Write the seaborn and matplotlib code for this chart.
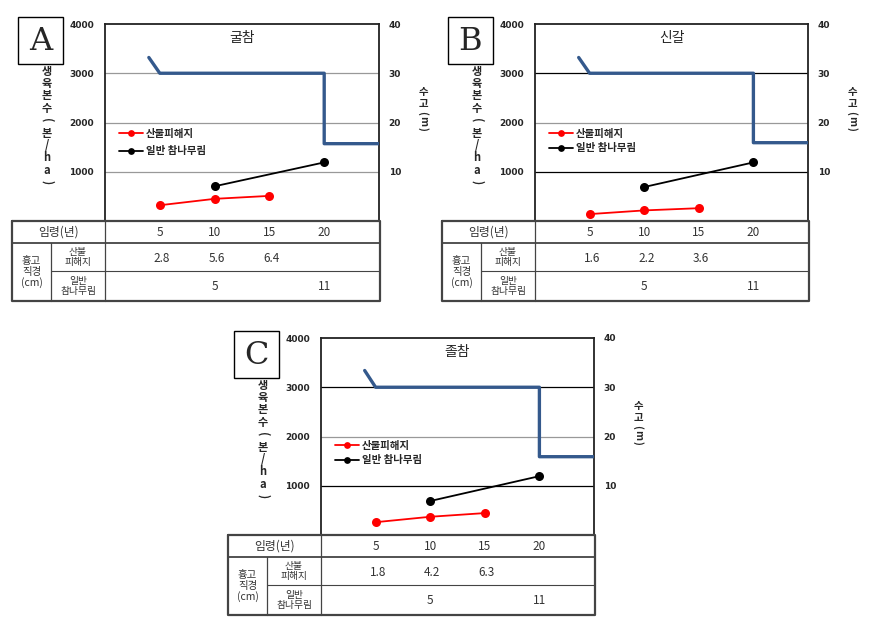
import matplotlib
matplotlib.use("Agg")
import matplotlib.pyplot as plt
import matplotlib.transforms as mtransforms
import seaborn as sns
import numpy as np
import pandas as pd

sns.set_theme(style="white")
KR = ['Noto Sans CJK KR', 'DejaVu Sans']
plt.rcParams['font.family'] = KR

# ---------------- data ----------------
panel_letters = ["A", "B", "C"]
species_titles = ["굴참", "신갈", "졸참"]

ages = [5, 10, 15, 20]
age_labels = ["5", "10", "15", "20"]

fire_ages = [5, 10, 15]
fire_density_A = [320, 450, 510]
fire_density_B = [140, 215, 260]
fire_density_C = [260, 370, 445]

oak_ages = [10, 20]
oak_density_A = [705, 1190]
oak_density_B = [690, 1190]
oak_density_C = [690, 1195]

height_x = [4, 5, 20, 20, 25]
height_A = [33.2, 30.0, 30.0, 15.7, 15.7]
height_B = [33.2, 30.0, 30.0, 15.9, 15.9]
height_C = [33.4, 30.0, 30.0, 15.9, 15.9]

dbh_fire_A = ["2.8", "5.6", "6.4"]
dbh_fire_B = ["1.6", "2.2", "3.6"]
dbh_fire_C = ["1.8", "4.2", "6.3"]
dbh_oak_ages = [10, 20]
dbh_oak = ["5", "11"]

left_ticks = [1000, 2000, 3000, 4000]
right_ticks = [10, 20, 30, 40]

legend_fire = "산불피해지"
legend_oak = "일반 참나무림"
row_age = "임령(년)"
row_dbh = "흉고\n직경\n(cm)"
row_fire = "산불\n피해지"
row_oak = "일반\n참나무림"
left_label_chars = ["생", "육", "본", "수", "(", "본", "/", "h", "a", ")"]
right_label_chars = ["수", "고", "(", "m", ")"]

# ---------------- layout (pixels) ----------------
W, H = 876, 628
fig = plt.figure(figsize=(W / 100, H / 100), dpi=100)

def px(x, y):
    return x / W, 1 - y / H

panels = [
    dict(l=105, r=379, t=24, b=221, fire=fire_density_A, oak=oak_density_A, hgt=height_A,
         dbh=dbh_fire_A, grid=["#999999", "#999999", "#999999"], leg=(0.035, 0.49), ls=0.75),
    dict(l=535, r=808, t=24, b=221, fire=fire_density_B, oak=oak_density_B, hgt=height_B,
         dbh=dbh_fire_B, grid=["#000000", "#999999", "#000000"], leg=(0.035, 0.49), ls=0.45),
    dict(l=321, r=594, t=338, b=535, fire=fire_density_C, oak=oak_density_C, hgt=height_C,
         dbh=dbh_fire_C, grid=["#000000", "#999999", "#000000"], leg=(0.035, 0.50), ls=0.45),
]

blue = "#34598c"
right_offsets = [68, 80, 89, 97, 105]

for i, p in enumerate(panels):
    l, r, t, b = p["l"], p["r"], p["t"], p["b"]
    ax = fig.add_axes([l / W, 1 - b / H, (r - l) / W, (b - t) / H])
    ax.set_xlim(0, 25)
    ax.set_ylim(0, 4000)
    for v, c in zip([1000, 2000, 3000], p["grid"]):
        ax.axhline(v, color=c, lw=0.9, zorder=0)

    sns.lineplot(x=fire_ages, y=p["fire"], ax=ax, color="#ff0000", marker="o",
                 markersize=6.5, markeredgewidth=0, lw=1.3, label=legend_fire, zorder=3)
    sns.lineplot(x=oak_ages, y=p["oak"], ax=ax, color="#000000", marker="o",
                 markersize=6.5, markeredgewidth=0, lw=1.3, label=legend_oak, zorder=3)

    ax.set_yticks(left_ticks)
    ax.set_yticklabels([str(v) for v in left_ticks], fontsize=6.5, fontweight="bold",
                       family="DejaVu Sans")
    ax.tick_params(axis="y", length=0, pad=8)
    ax.set_xticks(ages)
    ax.set_xticklabels([])
    ax.tick_params(axis="x", direction="in", length=3, width=0.8, colors="#000000")
    for s in ax.spines.values():
        s.set_color("#222222")
        s.set_linewidth(1.3)
    ax.set_xlabel("")
    ax.set_ylabel("")

    ax.legend(loc="upper left", bbox_to_anchor=p["leg"], frameon=False,
              prop=dict(family=KR, size=7.5, weight="bold"), handlelength=2.3,
              handletextpad=0.3, labelspacing=p["ls"], borderaxespad=0, markerscale=0.75)

    ax.text(0.5, 0.93, species_titles[i], transform=ax.transAxes, ha="center", va="center",
            fontsize=10, family=KR)

    ax2 = ax.twinx()
    ax2.set_ylim(0, 40)
    sns.lineplot(x=height_x, y=p["hgt"], ax=ax2, color=blue, lw=2.4, sort=False,
                 estimator=None, legend=False)
    ax2.set_yticks(right_ticks)
    ax2.set_yticklabels([str(v) for v in right_ticks], fontsize=6.5, fontweight="bold",
                        family="DejaVu Sans")
    ax2.tick_params(axis="y", length=0, pad=7)
    ax2.set_ylabel("")
    ax2.grid(False)
    for s in ax2.spines.values():
        s.set_visible(False)

    # panel letter box
    bx0, bx1, by0, by1 = l - 87, l - 42, t - 7, t + 40
    fig.patches.append(plt.Rectangle(px(bx0, by1), (bx1 - bx0) / W, (by1 - by0) / H,
                                     transform=fig.transFigure, fill=False,
                                     edgecolor="#000000", lw=1.0))
    fig.text(*px((bx0 + bx1) / 2, (by0 + by1) / 2 + 1), panel_letters[i],
             family="DejaVu Serif", fontsize=23, ha="center", va="center")

    # stacked axis labels
    for k, ch in enumerate(left_label_chars):
        rot = -90 if ch in "()" else 0
        fig.text(*px(l - 58, t + 47 + k * 12.4), ch, ha="center", va="center",
                 fontsize=8, fontweight="bold", rotation=rot, family=KR)
    for ch, off in zip(right_label_chars, right_offsets):
        rot = -90 if ch in "()m" else 0
        fig.text(*px(r + 44, t + off), ch, ha="center", va="center",
                 fontsize=7.5, fontweight="bold", rotation=rot, family=KR)

    # table
    tl = l - 93
    tr = r + 1
    y0, y1, y2, y3 = b, b + 22, b + 50, b + 80
    c1 = tl + 39
    tab = fig.add_axes([tl / W, 1 - y3 / H, (tr - tl) / W, (y3 - y0) / H])
    tab.set_xlim(tl, tr)
    tab.set_ylim(y3, y0)
    tab.axis("off")
    line_c = "#444444"
    tab.plot([tl, tr, tr, tl, tl], [y0, y0, y3, y3, y0], color=line_c, lw=1.6, clip_on=False)
    tab.plot([tl, tr], [y1, y1], color=line_c, lw=1.3, clip_on=False)
    tab.plot([c1, tr], [y2, y2], color=line_c, lw=0.8, clip_on=False)
    tab.plot([l, l], [y0, y3], color=line_c, lw=0.9, clip_on=False)
    tab.plot([c1, c1], [y1, y3], color=line_c, lw=0.9, clip_on=False)

    tc = "#333333"
    tab.text((tl + l) / 2, (y0 + y1) / 2, row_age, ha="center", va="center",
             fontsize=8.5, color=tc)
    tab.text((tl + c1) / 2, (y1 + y3) / 2, row_dbh, ha="center", va="center",
             fontsize=7.5, color=tc, linespacing=1.1)
    tab.text((c1 + l) / 2, (y1 + y2) / 2, row_fire, ha="center", va="center",
             fontsize=7, color=tc, linespacing=0.9)
    tab.text((c1 + l) / 2, (y2 + y3) / 2, row_oak, ha="center", va="center",
             fontsize=7, color=tc, linespacing=0.9)

    blend = mtransforms.blended_transform_factory(ax.transData, tab.transData)
    for a, lab in zip(ages, age_labels):
        tab.text(a, (y0 + y1) / 2, lab, transform=blend, ha="center", va="center",
                 fontsize=8.5, color=tc, family=KR)
    for a, lab in zip(fire_ages, p["dbh"]):
        tab.text(a + 0.2, (y1 + y2) / 2 + 1, lab, transform=blend, ha="center", va="center",
                 fontsize=8.5, color=tc, family=KR)
    for a, lab in zip(dbh_oak_ages, dbh_oak):
        tab.text(a, (y2 + y3) / 2, lab, transform=blend, ha="center", va="center",
                 fontsize=8.5, color=tc, family=KR)

fig.savefig("out.png", dpi=100)
